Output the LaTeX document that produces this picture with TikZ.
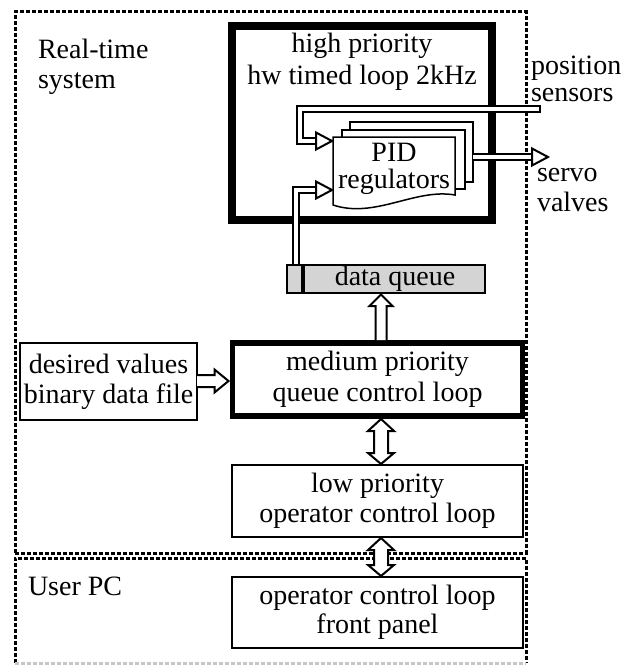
\documentclass[tikz,border=0pt]{standalone}
\usepackage{fontspec}
\setmainfont{Liberation Serif}
\usetikzlibrary{calc}
\begin{document}
\begin{tikzpicture}[x=1pt,y=-1pt,
  every node/.style={inner sep=0pt, outer sep=0pt, font=\fontsize{28}{30}\selectfont, align=center},
  dashline/.style={line width=3pt, dash pattern=on 3.8pt off 2.2pt},
  thinbox/.style={draw, line width=1.8pt, fill=white},
  hollow/.style={draw, line width=2pt, fill=white, line join=miter},
  dbl/.style={draw, line width=2pt, double=white, double distance=4pt, line join=miter},
  docline/.style={draw, line width=1.5pt, fill=white}]
\useasboundingbox (0,0) rectangle (624,666);

% containers
\node[minimum width=511pt, minimum height=541pt] (rt) at (270.5,282.5) {};
\draw[dashline] (rt.south west) rectangle (rt.north east);
\node[minimum width=511pt, minimum height=105pt] (pc) at (270.5,610.5) {};
\draw[dashline] (pc.south west) -- (pc.north west) -- (pc.north east) -- (pc.south east);
\draw[dashline, gray!45] (pc.south west) -- (pc.south east);
\node[anchor=west, align=left] (rtlabel) at (38,66.5) {Real-time\\system};
\node[anchor=west, align=left] (pclabel) at (28,586) {User PC};

% high priority loop
\node[draw, line width=7.5pt, minimum width=260pt, minimum height=194pt] (high) at (362,123) {};
\node[font=\fontsize{28}{32}\selectfont] (hightxt) at (362,62) {high priority\\hw timed loop 2kHz};

% named points
\coordinate (sens) at (540,109);
\coordinate (scorner) at (300,109);
\coordinate (pidin1) at (332,141);
\coordinate (pidin2) at (332,190);
\coordinate (pidout) at (473,157);
\coordinate (ax) at (381,0);
\coordinate (ay) at (0,381);

% data queue (geometry)
\node[minimum width=198pt, minimum height=28pt] (dq) at (386,279) {};
\coordinate (qin) at ($(dq.north west)+(9,0)$);

% position sensors line
\draw[dbl] (sens) -- (scorner) -- (scorner |- pidin1) -- ($(pidin1)+(-16,0)$);
\draw[line width=2pt] ($(sens)+(0,-4)$) -- ($(sens)+(0,4)$);
\draw[hollow] ($(pidin1)+(-16,-8.5)$) -- (pidin1) -- ($(pidin1)+(-16,8.5)$) -- cycle;

% data queue to PID line
\draw[dbl] (qin) -- (qin |- pidin2) -- ($(pidin2)+(-16,0)$);
\draw[hollow] ($(pidin2)+(-16,-8.5)$) -- (pidin2) -- ($(pidin2)+(-16,8.5)$) -- cycle;

% PID document stack
\draw[docline] (350,122) rectangle (473,182);
\draw[docline] (342,130) rectangle (465,189);
\draw[docline] (333,137) -- (455,137) -- (455,195) .. controls (415,188) and (375,219) .. (333,205) -- cycle;
\node[font=\fontsize{28}{27}\selectfont] (pidtxt) at (394,169) {PID\\regulators};

% output to servo valves
\draw[dbl] (pidout) -- ($(pidout)+(59,0)$);
\draw[hollow] ($(pidout)+(59,-8.5)$) -- ($(pidout)+(75,0)$) -- ($(pidout)+(59,8.5)$) -- cycle;
\node[anchor=west, align=left, font=\fontsize{28}{27}\selectfont] (sensorslabel) at (531,78.5) {position\\sensors};
\node[anchor=west, align=left] (servolabel) at (537,190.5) {servo\\valves};

% data queue box
\draw[line width=1.8pt, fill=black!17] (dq.north west) rectangle (dq.south east);
\draw[line width=3.5pt] ($(dq.north west)+(16,0)$) -- ($(dq.south west)+(16,0)$);
\node (dqtxt) at ($(dq.center)+(9,0)$) {data queue};

% lower boxes
\node[draw, line width=5.5pt, fill=white, minimum width=290pt, minimum height=73pt, font=\fontsize{28}{31}\selectfont] (med) at (377.5,379.5) {medium priority\\queue control loop};
\node[thinbox, minimum width=177pt, minimum height=77pt] (des) at (108.5,381.5) {desired values\\binary data file};
\node[thinbox, minimum width=291pt, minimum height=72pt] (low) at (377.5,501) {low priority\\operator control loop};
\node[thinbox, minimum width=291pt, minimum height=71pt, font=\fontsize{28}{29}\selectfont] (front) at (377.5,612.5) {operator control loop\\front panel};

% medium -> data queue
\path (ax |- med.north) coordinate (u1) (ax |- dq.south) coordinate (u2);
\draw[hollow] ($(u1)+(-5.5,-3)$) -- ($(u2)+(-5.5,13)$) -- ($(u2)+(-11.5,13)$) -- ($(u2)+(0,1.5)$) -- ($(u2)+(11.5,13)$) -- ($(u2)+(5.5,13)$) -- ($(u1)+(5.5,-3)$);

% desired -> medium
\path (des.east |- ay) coordinate (r1) (med.west |- ay) coordinate (r2);
\draw[hollow] ($(r1)+(0,-6)$) -- ($(r2)+(-18,-6)$) -- ($(r2)+(-18,-11.5)$) -- ($(r2)+(-4,0)$) -- ($(r2)+(-18,11.5)$) -- ($(r2)+(-18,6)$) -- ($(r1)+(0,6)$);

% medium <-> low
\path (ax |- med.south) coordinate (d1) (ax |- low.north) coordinate (d2);
\draw[hollow] ($(d1)+(0,3)$) -- ($(d1)+(13,15)$) -- ($(d1)+(7,15)$) -- ($(d2)+(7,-12)$) -- ($(d2)+(13,-12)$) -- ($(d2)+(0,-1)$) -- ($(d2)+(-13,-12)$) -- ($(d2)+(-7,-12)$) -- ($(d1)+(-7,15)$) -- ($(d1)+(-13,15)$) -- cycle;

% low <-> front panel
\path (ax |- low.south) coordinate (d3) (ax |- front.north) coordinate (d4);
\draw[hollow] ($(d3)+(0,1)$) -- ($(d3)+(13,13)$) -- ($(d3)+(7,13)$) -- ($(d4)+(7,-12)$) -- ($(d4)+(13,-12)$) -- ($(d4)+(0,-1)$) -- ($(d4)+(-13,-12)$) -- ($(d4)+(-7,-12)$) -- ($(d3)+(-7,13)$) -- ($(d3)+(-13,13)$) -- cycle;
\end{tikzpicture}
\end{document}
